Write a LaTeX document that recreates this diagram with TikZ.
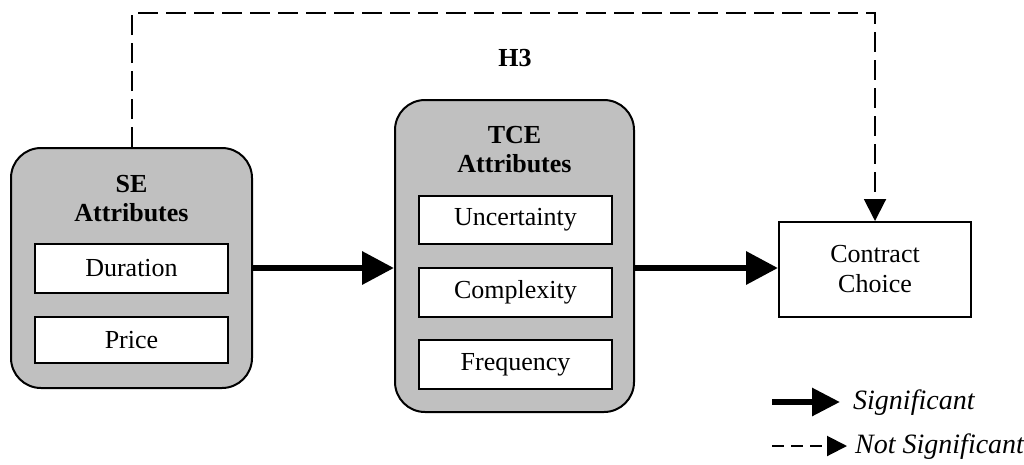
\documentclass[tikz,border=0pt]{standalone}
\usepackage{fontspec}
\setmainfont{Liberation Serif}
\usetikzlibrary{arrows.meta}
\definecolor{panelgray}{HTML}{C0C0C0}
\tikzset{
  group/.style={draw=black, line width=2pt, fill=panelgray, rounded corners=30pt, inner sep=0pt},
  item/.style={draw=black, line width=2pt, fill=white, minimum width=193pt, inner sep=0pt,
    font=\fontsize{26}{30}\selectfont},
  title/.style={align=center, font=\fontsize{26}{29}\selectfont\bfseries, inner sep=0pt},
  sigarrow/.style={line width=6.5pt, -{Triangle[length=32pt,width=32pt]}},
  nsarrow/.style={line width=2pt, dash pattern=on 20pt off 8pt, -{Triangle[length=22pt,width=22pt]}},
  legtext/.style={anchor=west, inner sep=0pt, font=\fontsize{28}{30}\selectfont\itshape}
}
\begin{document}
\begin{tikzpicture}[x=1pt, y=-1pt]
  \useasboundingbox (0,0) rectangle (1024,464);

  % attribute groups
  \node[group, minimum width=241pt, minimum height=240pt] (se) at (131.5,268) {};
  \node[title] (setitle) at (131.5,199) {SE\\Attributes};
  \node[item, minimum height=49pt] (dur) at (131.5,268.5) {Duration};
  \node[item, minimum height=46pt] (price) at (131.5,340) {Price};

  \node[group, minimum width=239pt, minimum height=312pt] (tce) at (514.5,256) {};
  \node[title] (tcetitle) at (514.5,150) {TCE\\Attributes};
  \node[item, minimum height=48pt] (unc) at (515.5,220) {Uncertainty};
  \node[item, minimum height=49pt] (cpx) at (515.5,292.5) {Complexity};
  \node[item, minimum height=49pt] (freq) at (515.5,364.5) {Frequency};

  % outcome
  \node[draw=black, line width=2pt, minimum width=192pt, minimum height=95pt, inner sep=0pt,
        align=center, font=\fontsize{26}{30}\selectfont] (cc) at (875,269.5) {Contract\\Choice};

  % hypothesis paths
  \draw[sigarrow] (se.east |- 0,268) -- (tce.west |- 0,268);
  \draw[sigarrow] (tce.east |- 0,268) -- (cc.west |- 0,268);
  \coordinate (h3a) at (132,13);
  \coordinate (h3b) at (875,13);
  \draw[nsarrow] (se.north -| h3a) -- (h3a) -- (h3b) -- (cc.north);
  \node[font=\fontsize{26}{30}\selectfont\bfseries, inner sep=0pt] (h3) at (515,58) {H3};

  % legend
  \coordinate (l1a) at (772,402);
  \coordinate (l1b) at (840,402);
  \draw[sigarrow, line width=6pt, -{Triangle[length=28pt,width=27pt]}] (l1a) -- (l1b);
  \node[legtext] (sig) at (853,403) {Significant};
  \coordinate (l2a) at (772,446);
  \coordinate (l2b) at (847,446);
  \draw[nsarrow, dash pattern=on 12pt off 7pt, -{Triangle[length=20pt,width=20pt]}] (l2a) -- (l2b);
  \node[legtext] (nsig) at (855,447) {Not Significant};
\end{tikzpicture}
\end{document}
